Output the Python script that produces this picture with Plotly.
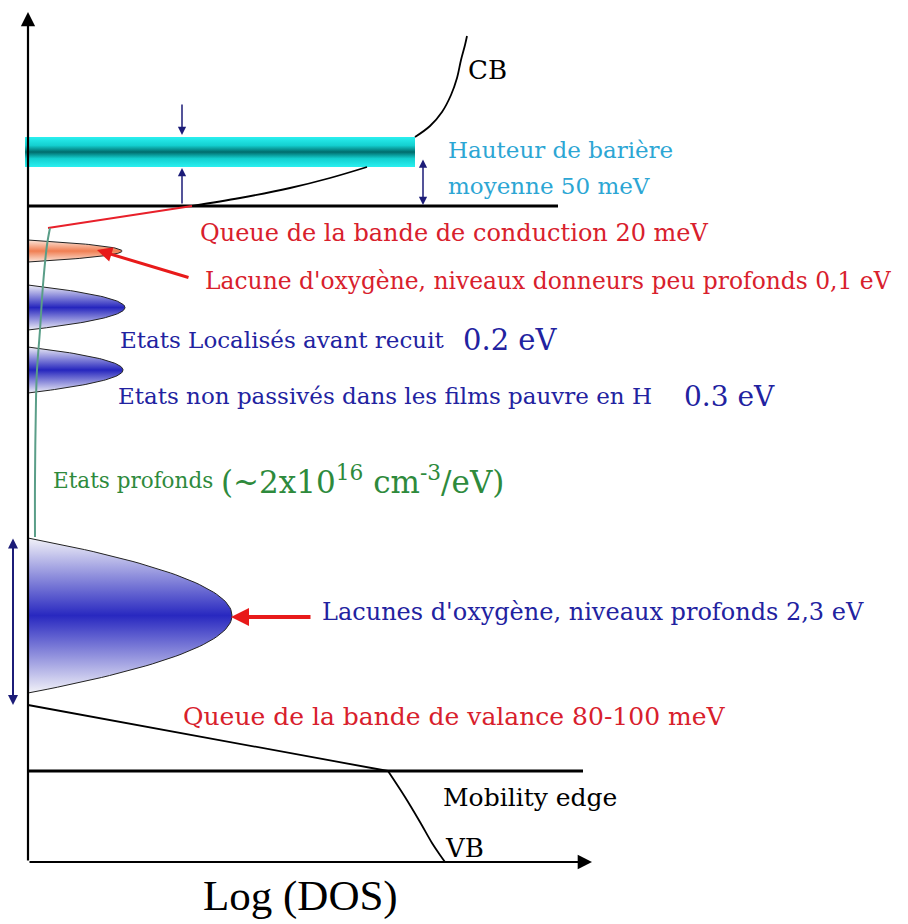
import numpy as np
import plotly.graph_objects as go

# ---- schematic data (diagram units: pixel positions of the original drawing) ----
axis_x0, axis_y0 = 28, 862           # origin of Log(DOS) / energy axes
axis_top, axis_right = 12, 592
cb_edge_y, cb_edge_x1 = 206, 558      # conduction-band mobility edge
vb_edge_y, vb_edge_x1 = 771, 583      # valence-band mobility edge

barrier_x = [25, 415]
barrier_y = [137, 167]

cb_curve_x = [415, 430, 442, 451, 457, 461, 465, 467]
cb_curve_y = [137, 126, 112, 95, 78, 60, 45, 36]
cb_tail_x = [192, 240, 290, 330, 367]
cb_tail_y = [206, 198, 188, 178, 167]
cb_red_tail_x = [48, 192]
cb_red_tail_y = [228, 206]

deep_x = [50, 47, 43, 40, 37, 36, 35, 35]
deep_y = [228, 245, 285, 330, 370, 400, 480, 537]

vb_tail_x = [28, 388]
vb_tail_y = [705, 771]
vb_curve_x = [388, 405, 420, 432, 440, 445]
vb_curve_y = [771, 797, 822, 843, 855, 862]

lobe_top = [240, 285, 347, 538]
lobe_bottom = [262, 330, 393, 693]
lobe_tip_x = [122, 125, 123, 232]
lobe_center = ["#F07E52", "#2626BE", "#2626BE", "#2828C0"]
lobe_edge = ["#FCE6DA", "#EEEEF6", "#EEEEF6", "#F2F2F8"]

RED = "#D8202C"
BLUE = "#2222A0"
CYAN = "#2CA6D4"
GREEN = "#2E8A3C"
NAVY = "#1C1C78"
FONT = "DejaVu Serif"
FONT2 = "Liberation Serif"

fig = go.Figure()

# cyan barrier band
fig.add_trace(go.Scatter(
    x=[barrier_x[0], barrier_x[1], barrier_x[1], barrier_x[0], barrier_x[0]],
    y=[barrier_y[0], barrier_y[0], barrier_y[1], barrier_y[1], barrier_y[0]],
    mode="lines", line=dict(width=0), fill="toself",
    fillgradient=dict(type="vertical", colorscale=[
        [0, "#2AF0F0"], [0.28, "#14D0D0"], [0.5, "#006C6C"], [0.72, "#14D0D0"], [1, "#2AF0F0"]]),
    hoverinfo="skip", showlegend=False))

# Gaussian-like lobes of localised states
t = np.linspace(-1, 1, 81)
for top, bot, tip, cc, ec in zip(lobe_top, lobe_bottom, lobe_tip_x, lobe_center, lobe_edge):
    yc = (top + bot) / 2
    h = (bot - top) / 2
    xs = axis_x0 + (tip - axis_x0) * (1 - t ** 2)
    ys = yc + h * t
    fig.add_trace(go.Scatter(
        x=np.concatenate([[axis_x0], xs, [axis_x0]]),
        y=np.concatenate([[top], ys, [bot]]),
        mode="lines", line=dict(color="#222222", width=1), fill="toself",
        fillgradient=dict(type="vertical", colorscale=[[0, ec], [0.5, cc], [1, ec]]),
        hoverinfo="skip", showlegend=False))

def line(xs, ys, color="black", width=2, shape="spline"):
    fig.add_trace(go.Scatter(x=xs, y=ys, mode="lines",
                             line=dict(color=color, width=width, shape=shape),
                             hoverinfo="skip", showlegend=False))

line([axis_x0, cb_edge_x1], [cb_edge_y, cb_edge_y], width=3, shape="linear")
line([axis_x0, vb_edge_x1], [vb_edge_y, vb_edge_y], width=3, shape="linear")
line(cb_curve_x, cb_curve_y, width=1.8)
line(cb_tail_x, cb_tail_y, width=1.8)
line(cb_red_tail_x, cb_red_tail_y, color="#E8202A", width=2, shape="linear")
line(deep_x, deep_y, color="#5A9E88", width=2)
line(vb_tail_x, vb_tail_y, width=1.8, shape="linear")
line(vb_curve_x, vb_curve_y, width=1.8)

annotations = []

def arrow(x, y, ax, ay, color, width, head=2, size=1.0, both=False):
    annotations.append(dict(x=x, y=y, ax=ax, ay=ay, xref="x", yref="y", axref="x", ayref="y",
                            text="", showarrow=True, arrowhead=head, arrowsize=size,
                            arrowwidth=width, arrowcolor=color, standoff=0, startstandoff=0,
                            arrowside="end+start" if both else "end", startarrowhead=head,
                            startarrowsize=size))

# axes
arrow(axis_x0, axis_top, axis_x0, axis_y0, "black", 2.2, head=2, size=1.3)
arrow(axis_right, axis_y0, axis_x0, axis_y0, "black", 2.2, head=2, size=1.3)
# barrier arrows
arrow(182, 135, 182, 103, NAVY, 1.5, head=2, size=1.1)
arrow(182, 168, 182, 205, NAVY, 1.5, head=2, size=1.1)
arrow(423, 205, 423, 158, NAVY, 1.5, head=2, size=1.1, both=True)
# deep-level width arrow
arrow(13, 705, 13, 537, NAVY, 2, head=2, size=1.0, both=True)
# red pointers
arrow(97, 250, 190, 278, "#E81A1A", 3, head=2, size=1.0)
arrow(231, 617, 312, 617, "#E81A1A", 4, head=2, size=0.9)

def label(x, y, text, color, size=22, anchor="left", family=FONT):
    annotations.append(dict(x=x, y=y, xref="x", yref="y", text=text, showarrow=False,
                            xanchor=anchor, yanchor="middle",
                            font=dict(family=family, size=size, color=color)))

label(466, 70, "CB", "black", 26)
label(446, 150, "Hauteur de barière", CYAN, 23)
label(446, 186, "moyenne 50 meV", CYAN, 23)
label(198, 233, "Queue de la bande de conduction 20 meV", RED, 24)
label(203, 281, "Lacune d'oxygène, niveaux donneurs peu profonds 0,1 eV", RED, 23.4)
label(118, 340, "Etats Localisés avant recuit", BLUE, 23)
label(461, 340, "0.2 eV", BLUE, 29)
label(116, 396, "Etats non passivés dans les films pauvre en H", BLUE, 23)
label(682, 396, "0.3 eV", BLUE, 28)
label(51, 480, "Etats profonds", GREEN, 21.5)
label(219, 480, "(~2x10<sup>16</sup> cm<sup>-3</sup>/eV)", GREEN, 31)
label(320, 612, "Lacunes d'oxygène, niveaux profonds 2,3 eV", BLUE, 24)
label(181, 716, "Queue de la bande de valance 80-100 meV", RED, 25)
label(441, 797, "Mobility edge", "black", 25)
label(443, 848, "VB", "black", 26)
label(300, 896, "Log (DOS)", "black", 43, anchor="center", family=FONT2)

fig.update_layout(
    width=900, height=916, margin=dict(l=0, r=0, t=0, b=0),
    paper_bgcolor="white", plot_bgcolor="white",
    xaxis=dict(range=[8, 908], visible=False, fixedrange=True),
    yaxis=dict(range=[924, 8], visible=False, fixedrange=True),
    annotations=annotations, showlegend=False)

fig.write_html("out.html")
